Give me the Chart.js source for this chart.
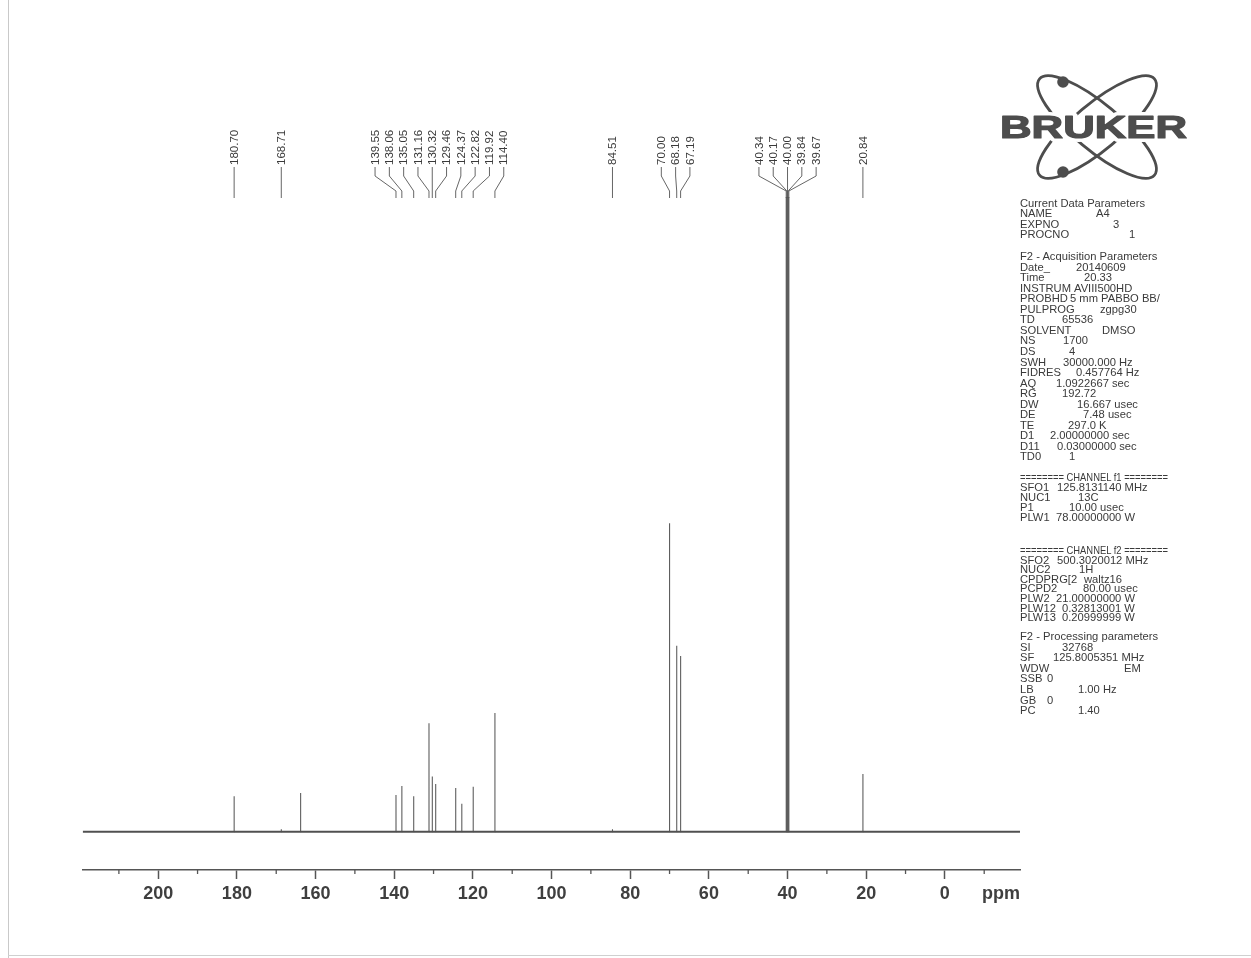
<!DOCTYPE html>
<html>
<head>
<meta charset="utf-8">
<script src="https://cdn.jsdelivr.net/npm/chart.js@4.4.1/dist/chart.umd.min.js"></script>
<style>
html,body{margin:0;padding:0;background:#fff;overflow:hidden}
#wrap{position:relative;width:1251px;height:958px;background:#fff}
#cbox{position:absolute;left:0;top:0;width:1251px;height:958px}
#edgeL{position:absolute;left:8px;top:0;width:1px;height:958px;background:#c9c9c9}
#edgeB{position:absolute;left:8px;top:955px;width:1243px;height:1px;background:#d0d0d0}
#params{position:absolute;left:0;top:0;font-family:"Liberation Sans",Arial,Helvetica,sans-serif;font-size:11.2px;color:#3a3a3a}
.row{position:absolute;white-space:nowrap;height:10px;line-height:10px}
#logo{position:absolute;left:0;top:0}
</style>
</head>
<body>
<div id="wrap">
  <div id="edgeL"></div><div id="edgeB"></div>
  <div id="cbox"><canvas id="c"></canvas></div>
  <svg id="logo" width="1251" height="200" viewBox="0 0 1251 200">
    <g fill="none" stroke="#4d4d4d" stroke-width="2.8">
      <ellipse cx="1097" cy="127" rx="75" ry="23" transform="rotate(40 1097 127)"/>
      <ellipse cx="1097" cy="127" rx="75" ry="23" transform="rotate(-40 1097 127)"/>
    </g>
    <circle cx="1063" cy="82" r="5.8" fill="#4d4d4d"/>
    <circle cx="1063" cy="172" r="5.8" fill="#4d4d4d"/>
    <text x="1000" y="138" font-family="Liberation Sans, Arial, sans-serif" font-weight="bold" font-size="31" textLength="187" lengthAdjust="spacingAndGlyphs" fill="#4d4d4d" stroke="#fff" stroke-width="8" paint-order="stroke" stroke-linejoin="round">BRUKER</text>
    <text x="1000" y="138" font-family="Liberation Sans, Arial, sans-serif" font-weight="bold" font-size="31" textLength="187" lengthAdjust="spacingAndGlyphs" fill="#4d4d4d" stroke="#4d4d4d" stroke-width="1.2" stroke-linejoin="round">BRUKER</text>
  </svg>
  <div id="params"></div>
</div>
<script>
// ---------- data ----------
const labeledPpm = [180.70, 168.71, 139.55, 138.06, 135.05, 131.16, 130.32, 129.46, 124.37, 122.82, 119.92, 114.40, 84.51, 70.00, 68.18, 67.19, 40.34, 40.17, 40.00, 39.84, 39.67, 20.84];
const labeledHeight = [5.6, 0.4, 5.8, 7.2, 5.6, 17.1, 8.7, 7.5, 6.9, 4.4, 7.1, 18.7, 0.4, 48.6, 29.3, 27.7, 100, 100, 100, 100, 100, 9.1];
const unlabeledPpm = [163.8];
const unlabeledHeight = [6.1];
const axisTicks = [0, 20, 40, 60, 80, 100, 120, 140, 160, 180, 200];
const X_MAX = 219.2, X_MIN = -19.1, Y_MIN = -6.03, Y_MAX = 100;

const paramSections = [
  {top: 203, pitch: 10.3, rows: [
    ["Current Data Parameters", "", 0],
    ["NAME", "A4", 1096], ["EXPNO", "3", 1113], ["PROCNO", "1", 1129]]},
  {top: 256, pitch: 10.55, rows: [
    ["F2 - Acquisition Parameters", "", 0],
    ["Date_", "20140609", 1076], ["Time", "20.33", 1084], ["INSTRUM", "AVIII500HD", 1074],
    ["PROBHD", "5 mm PABBO BB/", 1070], ["PULPROG", "zgpg30", 1100], ["TD", "65536", 1062],
    ["SOLVENT", "DMSO", 1102], ["NS", "1700", 1063], ["DS", "4", 1069],
    ["SWH", "30000.000 Hz", 1063], ["FIDRES", "0.457764 Hz", 1076], ["AQ", "1.0922667 sec", 1056],
    ["RG", "192.72", 1062], ["DW", "16.667 usec", 1077], ["DE", "7.48 usec", 1083],
    ["TE", "297.0 K", 1068], ["D1", "2.00000000 sec", 1050], ["D11", "0.03000000 sec", 1057],
    ["TD0", "1", 1069]]},
  {top: 477, pitch: 10.0, rows: [
    ["======== CHANNEL f1 ========", "", 0],
    ["SFO1", "125.8131140 MHz", 1057], ["NUC1", "13C", 1078], ["P1", "10.00 usec", 1069],
    ["PLW1", "78.00000000 W", 1056]]},
  {top: 550, pitch: 9.6, rows: [
    ["======== CHANNEL f2 ========", "", 0],
    ["SFO2", "500.3020012 MHz", 1057], ["NUC2", "1H", 1079], ["CPDPRG[2", "waltz16", 1084],
    ["PCPD2", "80.00 usec", 1083], ["PLW2", "21.00000000 W", 1056], ["PLW12", "0.32813001 W", 1062],
    ["PLW13", "0.20999999 W", 1062]]},
  {top: 636, pitch: 10.6, rows: [
    ["F2 - Processing parameters", "", 0],
    ["SI", "32768", 1062], ["SF", "125.8005351 MHz", 1053], ["WDW", "EM", 1124],
    ["SSB", "0", 1047], ["LB", "1.00 Hz", 1078], ["GB", "0", 1047], ["PC", "1.40", 1078]]}
];

// ---------- parameter panel (HTML text) ----------
const panel = document.getElementById('params');
paramSections.forEach(sec => {
  sec.rows.forEach((r, i) => {
    const yc = sec.top + i * sec.pitch;
    const k = document.createElement('div');
    k.className = 'row';
    k.style.left = '1020px';
    k.style.top = (yc - 5) + 'px';
    k.textContent = r[0];
    if (r[0].startsWith('====')) { k.style.transform = 'scaleX(0.84)'; k.style.transformOrigin = 'left center'; }
    panel.appendChild(k);
    if (r[1] !== '') {
      const v = document.createElement('div');
      v.className = 'row';
      v.style.left = r[2] + 'px';
      v.style.top = (yc - 5) + 'px';
      v.textContent = r[1];
      panel.appendChild(v);
    }
  });
});

// ---------- build datasets ----------
const allPeaks = labeledPpm.map((p, i) => ({p, h: labeledHeight[i]}))
  .concat(unlabeledPpm.map((p, i) => ({p, h: unlabeledHeight[i]})))
  .sort((a, b) => b.p - a.p);
const stickData = [];
allPeaks.forEach(pk => {
  stickData.push({x: pk.p + 0.012, y: 0});
  stickData.push({x: pk.p, y: pk.h});
  stickData.push({x: pk.p - 0.012, y: 0});
  stickData.push({x: pk.p - 0.012, y: null});
});
const baselineData = [{x: X_MAX, y: 0}, {x: X_MIN, y: 0}];

const FONT = '"Liberation Sans", Arial, Helvetica, sans-serif';

// ---------- peak labels plugin ----------
const peakLabels = {
  id: 'peakLabels',
  afterDraw(chart) {
    const xs = chart.scales.x, ctx = chart.ctx, top = chart.chartArea.top;
    const px = labeledPpm.map(p => xs.getPixelForValue(p));
    const order = px.map((v, i) => i).sort((a, b) => px[a] - px[b]);
    const sp = 14.3;
    let clusters = order.map(i => ({idx: [i], sum: px[i]}));
    const start = c => c.sum / c.idx.length - (c.idx.length - 1) * sp / 2;
    let changed = true;
    while (changed) {
      changed = false;
      for (let k = 0; k < clusters.length - 1; k++) {
        const a = clusters[k], b = clusters[k + 1];
        const aEnd = start(a) + (a.idx.length - 1) * sp;
        if (start(b) - aEnd < sp - 0.01) {
          a.idx = a.idx.concat(b.idx); a.sum += b.sum;
          clusters.splice(k + 1, 1); changed = true; break;
        }
      }
    }
    const lx = new Array(px.length);
    clusters.forEach(c => { const s = start(c); c.idx.forEach((i, j) => { lx[i] = s + j * sp; }); });

    ctx.save();
    ctx.strokeStyle = '#555';
    ctx.lineWidth = 0.9;
    ctx.fillStyle = '#3a3a3a';
    ctx.font = '11.5px ' + FONT;
    const yText = top - 32, yStem = top - 21, yBend = top - 6, yEnd = top + 1;
    labeledPpm.forEach((p, i) => {
      ctx.beginPath();
      ctx.moveTo(lx[i], yText + 2);
      ctx.lineTo(lx[i], yStem);
      ctx.lineTo(px[i], yBend);
      ctx.lineTo(px[i], yEnd);
      ctx.stroke();
      ctx.save();
      ctx.translate(lx[i], yText);
      ctx.rotate(-Math.PI / 2);
      ctx.textAlign = 'left';
      ctx.textBaseline = 'middle';
      ctx.fillText(p.toFixed(2), 0, 0.5);
      ctx.restore();
    });
    // minor ticks and unit
    const b = chart.chartArea.bottom;
    ctx.strokeStyle = '#555';
    ctx.lineWidth = 1.3;
    for (let v = -10; v < X_MAX; v += 20) {
      if (v < X_MIN) continue;
      const x = xs.getPixelForValue(v);
      ctx.beginPath(); ctx.moveTo(x, b); ctx.lineTo(x, b + 4); ctx.stroke();
    }
    ctx.fillStyle = '#3f3f3f';
    ctx.font = 'bold 18px ' + FONT;
    ctx.textAlign = 'right';
    ctx.textBaseline = 'middle';
    ctx.fillText('ppm', chart.chartArea.right, b + 9 + 4 + 10.8);
    ctx.restore();
  }
};

new Chart(document.getElementById('c'), {
  type: 'line',
  data: {
    datasets: [
      {data: baselineData, borderColor: '#505050', borderWidth: 2, pointRadius: 0, tension: 0},
      {data: stickData, borderColor: '#5e5e5e', borderWidth: 1.1, pointRadius: 0, tension: 0, spanGaps: false}
    ]
  },
  options: {
    responsive: true,
    maintainAspectRatio: false,
    animation: false,
    events: [],
    layout: {padding: {left: 82.7, right: 231, top: 197, bottom: 0}},
    plugins: {legend: {display: false}, tooltip: {enabled: false}, title: {display: false}},
    scales: {
      x: {
        type: 'linear', reverse: true, min: X_MIN, max: X_MAX, position: 'bottom',
        border: {display: true, color: '#555', width: 1.5},
        grid: {display: true, drawOnChartArea: false, drawTicks: true, tickLength: 9, tickColor: '#555', tickWidth: 1.5},
        afterBuildTicks(scale) { scale.ticks = axisTicks.map(v => ({value: v})); },
        ticks: {
          color: '#3f3f3f', padding: 4, maxRotation: 0, autoSkip: false, includeBounds: false,
          font: {family: FONT, size: 18, weight: 'bold'},
          callback: v => String(v)
        },
        afterFit(scale) { scale.height = 88; }
      },
      y: {display: false, min: Y_MIN, max: Y_MAX}
    }
  },
  plugins: [peakLabels]
});
</script>
</body>
</html>
